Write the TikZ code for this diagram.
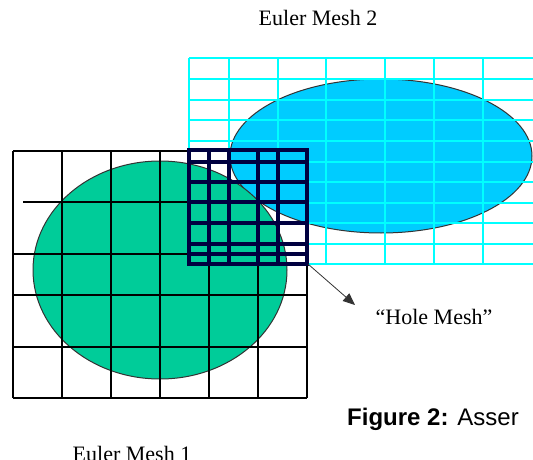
\documentclass[tikz,border=0pt]{standalone}
\usepackage{fontspec}
\setmainfont{Liberation Serif}
\newfontfamily\capfont{Liberation Sans}
\usetikzlibrary{arrows.meta}

\definecolor{meshcyan}{RGB}{0,255,255}
\definecolor{blobcyan}{RGB}{0,204,255}
\definecolor{blobgreen}{RGB}{0,204,153}
\definecolor{holenavy}{RGB}{0,0,64}

\begin{document}
\begin{tikzpicture}[
  x=1pt, y=-1pt,
  euler2/.style={draw=meshcyan, line width=1.6pt},
  euler1/.style={draw=black, line width=1.2pt},
  hole/.style={draw=holenavy, line width=4.6pt, line cap=rect},
  blob/.style={draw=black!80, line width=1pt},
  lbl/.style={font=\fontsize{22}{24}\selectfont, inner sep=0pt, anchor=base},
  arr/.style={-{Triangle[length=12pt,width=10pt]}, line width=0.8pt, draw=black!80}
]
\useasboundingbox (0,0) rectangle (533,460);
\clip (0,0) rectangle (533,460);

\fill[white] (0,0) rectangle (533,460);

\draw[blob, fill=blobcyan] (381,156) ellipse [x radius=151, y radius=77];
\foreach \x in {189,229,278,326,385,434,483}
  \draw[euler2] (\x,58) -- (\x,264);
\foreach \y in {58,79,100,120,141,162,182,203,223,244,264}
  \draw[euler2] (189,\y) -- (533,\y);

\draw[blob, fill=blobgreen] (160,270) ellipse [x radius=127, y radius=109];
\foreach \x in {13,62,111,160,209,258,307}
  \draw[euler1] (\x,151) -- (\x,398);
\foreach \y in {151,254,295,347,398}
  \draw[euler1] (13,\y) -- (307,\y);
\draw[euler1] (23,202) -- (307,202);

\foreach \x in {189,209,229,258,278,307}
  \draw[hole] (\x,150) -- (\x,264);
\foreach \y in {150,162,182,202,223,244,254,264}
  \draw[hole] (189,\y) -- (307,\y);

\coordinate (holecorner) at (308,264);
\coordinate (holetip) at (355,305);
\draw[arr] (holecorner) -- (holetip);

\node[lbl] (mesh2) at (318,26) {Euler Mesh 2};
\node[lbl] (holelbl) at (434,324) {``Hole Mesh''};
\node[lbl] (mesh1) at (132,461) {Euler Mesh 1};
\node[anchor=base west, inner sep=0pt, font=\capfont\fontsize{24}{26}\selectfont]
  (fig) at (347,425) {\textbf{Figure 2:} Asser};
\end{tikzpicture}
\end{document}
